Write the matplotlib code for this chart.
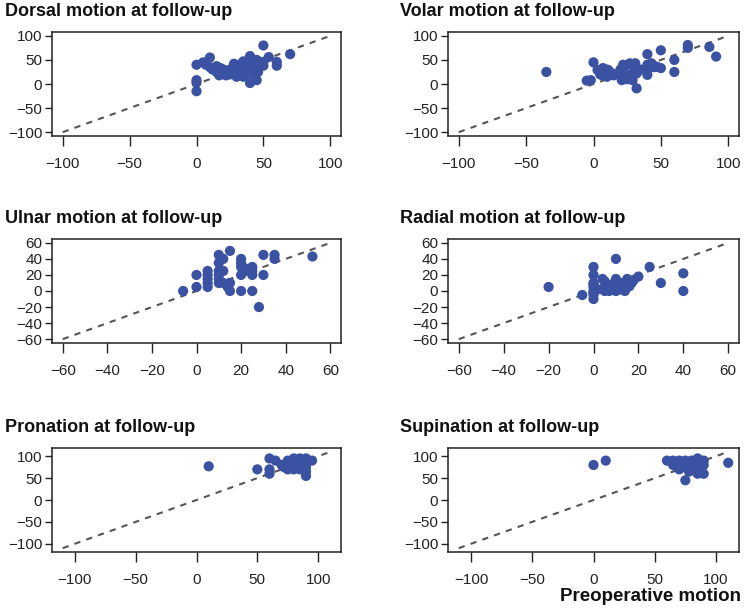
import numpy as np
import matplotlib
matplotlib.use("Agg")
import matplotlib.pyplot as plt

plt.rcParams['font.family'] = ['Liberation Sans', 'DejaVu Sans']

# Preoperative (x) vs follow-up (y) motion, degrees
dorsal_pre = [0, 0, 0, 0, 5, 10, 7, 10, 12, 15, 15, 18, 18, 20, 22, 17, 25, 28, 28, 30,
              30, 32, 35, 35, 35, 38, 40, 40, 40, 42, 44, 45, 45, 46, 50, 50, 50, 54,
              60, 60, 70, 32, 25]
dorsal_fu = [40, 8, -15, 3, 45, 55, 40, 35, 30, 37, 25, 33, 22, 30, 18, 18, 20, 42, 26, 15,
             35, 22, 47, 26, 15, 35, 58, 22, 2, 43, 36, 8, 50, 25, 80, 46, 38, 56,
             46, 38, 62, 40, 30]

volar_pre = [-35, 0, -5, -2, 3, 5, 6, 7, 10, 11, 10, 14, 15, 20, 21, 23, 25, 27, 31, 27,
             29, 32, 32, 35, 40, 40, 40, 40, 43, 45, 47, 50, 50, 60, 60, 70, 70, 86,
             91, 20, 22, 30, 8]
volar_fu = [25, 45, 7, 8, 29, 20, 19, 33, 30, 29, 15, 22, 18, 19, 8, 36, 10, 43, 43, 19,
            8, -9, 22, 30, 62, 40, 19, 30, 43, 35, 36, 70, 33, 50, 25, 81, 75, 77,
            57, 30, 40, 35, 20]

ulnar_pre = [-6, 0, 0, 5, 5, 5, 5, 5, 10, 12, 10, 15, 10, 12, 10, 10, 12, 15, 14, 15,
             20, 25, 20, 20, 20, 22, 20, 25, 25, 25, 30, 30, 35, 35, 28, 52, 10, 22]
ulnar_fu = [0, 20, 5, 25, 20, 15, 10, 5, 45, 40, 35, 50, 25, 25, 20, 15, 10, 10, 5, 0,
            0, 0, 40, 35, 30, 25, 20, 30, 25, 20, 45, 20, 45, 40, -20, 43, 10, 28]

radial_pre = [-20, -5, 0, 0, 0, 0, 0, 0, 0, 0, 4, 5, 5, 5, 7, 8, 10, 10, 10, 10,
              12, 12, 14, 15, 15, 16, 17, 18, 20, 25, 30, 40, 40, 2, 8]
radial_fu = [5, -5, 30, 20, 10, 5, 0, -5, -10, 8, 15, 12, 5, 0, 0, 8, 40, 15, 5, 0,
             2, 10, 0, 15, 5, 6, 10, 14, 18, 30, 10, 22, 0, 2, 3]

pron_pre = [10, 50, 60, 60, 60, 65, 70, 72, 75, 75, 75, 80, 80, 80, 80, 85, 85, 85, 85,
            90, 90, 90, 90, 90, 95, 78, 88]
pron_fu = [77, 70, 95, 70, 60, 90, 80, 75, 90, 80, 70, 95, 85, 75, 70, 95, 85, 75, 70,
           95, 85, 75, 65, 55, 90, 88, 80]

sup_pre = [0, 10, 60, 65, 65, 70, 70, 70, 75, 75, 75, 80, 80, 80, 85, 85, 85, 85, 90,
           90, 90, 75, 110, 68, 78]
sup_fu = [80, 90, 90, 90, 80, 90, 80, 70, 90, 85, 75, 90, 80, 70, 95, 85, 75, 60, 90,
          80, 60, 45, 85, 75, 65]

titles = ["Dorsal motion at follow-up", "Volar motion at follow-up",
          "Ulnar motion at follow-up", "Radial motion at follow-up",
          "Pronation at follow-up", "Supination at follow-up"]
series = [(dorsal_pre, dorsal_fu), (volar_pre, volar_fu),
          (ulnar_pre, ulnar_fu), (radial_pre, radial_fu),
          (pron_pre, pron_fu), (sup_pre, sup_fu)]
line_lim = [100, 100, 60, 60, 110, 110]
ticks = [np.arange(-100, 101, 50), np.arange(-100, 101, 50),
         np.arange(-60, 61, 20), np.arange(-60, 61, 20),
         np.arange(-100, 101, 50), np.arange(-100, 101, 50)]

W, H = 750, 613
fig = plt.figure(figsize=(W / 100, H / 100), dpi=100)

lefts = [52, 448]
tops = [32, 239, 448]
widths = [289, 291]
box_h = 104
title_x = [5, 400]
title_base = [16, 223, 432]

for i in range(6):
    r, c = divmod(i, 2)
    ax = fig.add_axes([lefts[c] / W, 1 - (tops[r] + box_h) / H,
                       widths[c] / W, box_h / H])
    lim = line_lim[i]
    pad = 0.04 * 2 * lim
    # identity line
    ax.plot([-lim, lim], [-lim, lim], ls=(0, (3, 3)), color='#555555', lw=1.5, zorder=1)
    x, y = series[i]
    ax.scatter(x, y, s=54, color='#3b52a3', edgecolors='none', zorder=2)
    ax.set_xlim(-lim - pad, lim + pad)
    ax.set_ylim(-lim - pad, lim + pad)
    ax.set_xticks(ticks[i])
    ax.set_yticks(ticks[i])
    ax.tick_params(axis='x', length=7, width=1, pad=8, labelsize=11, colors='#222222')
    ax.tick_params(axis='y', length=5, width=1, pad=2, labelsize=11, colors='#222222')
    for s in ax.spines.values():
        s.set_linewidth(1.1)
        s.set_color('#222222')
    fig.text(title_x[c] / W, 1 - title_base[r] / H, titles[i], fontsize=13,
             fontweight='bold', ha='left', va='baseline', color='#111111')

fig.text(741 / W, 1 - 601 / H, "Preoperative motion", fontsize=13.5,
         fontweight='bold', ha='right', va='baseline', color='#111111')

fig.savefig("out.png", dpi=100)
